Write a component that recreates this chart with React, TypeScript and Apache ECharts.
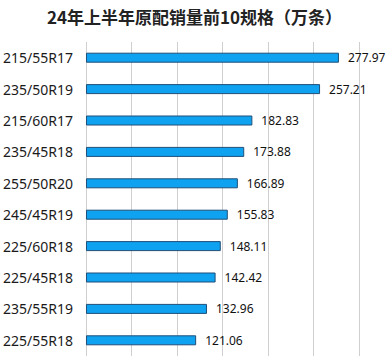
import React, { useEffect, useRef } from "react";
import * as echarts from "echarts";

const titleText = "24年上半年原配销量前10规格（万条）";
const categories = [
  "215/55R17",
  "235/50R19",
  "215/60R17",
  "235/45R18",
  "255/50R20",
  "245/45R19",
  "225/60R18",
  "225/45R18",
  "235/55R19",
  "225/55R18",
];
const values = [277.97, 257.21, 182.83, 173.88, 166.89, 155.83, 148.11, 142.42, 132.96, 121.06];

export default function App() {
  const ref = useRef<HTMLDivElement>(null);
  useEffect(() => {
    if (!ref.current) return;
    const chart = echarts.init(ref.current, undefined, { renderer: "svg" });
    chart.setOption({
      animation: false,
      backgroundColor: "#ffffff",
      title: {
        text: titleText,
        left: "center",
        top: 3,
        textStyle: {
          fontFamily: "'Noto Sans CJK SC', sans-serif",
          fontSize: 17,
          fontWeight: "bold",
          color: "#222",
        },
      },
      grid: { left: 80, right: 30, top: 42, bottom: 0, containLabel: false },
      xAxis: {
        type: "value",
        min: 0,
        max: 300,
        interval: 50,
        axisLabel: { show: false },
        axisLine: { show: false },
        axisTick: { show: false },
        splitLine: { show: true, lineStyle: { color: "#cfcfcf", width: 1 } },
      },
      yAxis: {
        type: "category",
        data: categories,
        inverse: true,
        axisLine: { show: false },
        axisTick: { show: false },
        axisLabel: {
          color: "#1a1a1a",
          fontSize: 14,
          margin: 13,
          fontFamily: "'Noto Sans', sans-serif",
        },
      },
      series: [
        {
          type: "bar",
          data: values,
          barWidth: 10,
          itemStyle: {
            color: "#0ea2f0",
            borderColor: "#1f4f78",
            borderWidth: 1,
          },
          label: {
            show: true,
            position: "right",
            distance: 9,
            color: "#111",
            fontSize: 12,
            fontFamily: "'Noto Sans', sans-serif",
            formatter: (p: any) => p.value.toFixed(2),
          },
        },
      ],
    });
    return () => chart.dispose();
  }, []);
  return <div ref={ref} style={{ width: 389, height: 356, position: "absolute", left: 0, top: 0 }} />;
}
